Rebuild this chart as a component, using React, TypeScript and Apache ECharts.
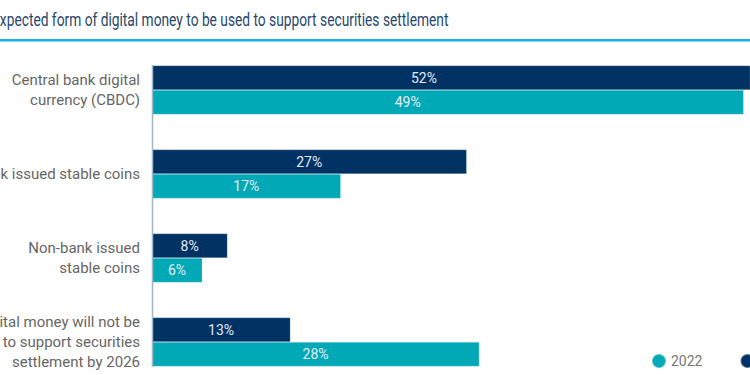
import React, { useEffect, useRef } from "react";
import * as echarts from "echarts";

const categories = [
  "Central bank digital\ncurrency (CBDC)",
  "Bank issued stable coins",
  "Non-bank issued\nstable coins",
  "Digital money will not be\nused to support securities\nsettlement by 2026",
];
const values2023 = [52, 27, 8, 13];
const values2022 = [49, 17, 6, 28];
const seriesNames = ["2022", "2023"];
const titleText = "Expected form of digital money to be used to support securities settlement";

const NAVY = "#003263";
const TEAL = "#00a9b5";

export default function App() {
  const ref = useRef<HTMLDivElement>(null);
  useEffect(() => {
    document.body.style.margin = "0";
    const chart = echarts.init(ref.current!, undefined, { renderer: "svg" });
    const labelBase = {
      show: true,
      position: "inside",
      color: "#e3ebf3",
      fontSize: 14,
      fontFamily: "Roboto",
      formatter: (p: any) => p.value + "%",
    };
    const withOffset = (vals: number[], dx: number) =>
      vals.map((v, i) => (i === 0 ? { value: v, label: { offset: [dx, 0] } } : v));
    chart.setOption({
      animation: false,
      backgroundColor: "#ffffff",
      grid: { left: 152, right: 0, top: 48, height: 336, outerBoundsMode: "none", containLabel: false },
      xAxis: { type: "value", min: 2, max: 49.5, show: false },
      yAxis: {
        type: "category",
        inverse: true,
        data: categories,
        axisLine: { show: false },
        axisTick: { show: false },
        axisLabel: {
          color: "#666666",
          fontSize: 15,
          lineHeight: 20,
          margin: 12,
          fontFamily: "Roboto",
          align: "right",
        },
      },
      legend: {
        data: seriesNames,
        left: 646,
        top: 348,
        width: 220,
        icon: "circle",
        itemWidth: 14,
        itemHeight: 14,
        itemGap: 37,
        textStyle: { color: "#777777", fontSize: 14, fontFamily: "Roboto" },
      },
      series: [
        {
          name: "2023",
          type: "bar",
          data: withOffset(values2023, -27),
          barWidth: 24.5,
          barGap: "0%",
          clip: true,
          itemStyle: { color: NAVY, borderColor: "rgba(255,255,255,0.35)", borderWidth: 0.6 },
          label: labelBase,
        },
        {
          name: "2022",
          type: "bar",
          data: withOffset(values2022, -40),
          barWidth: 24.5,
          barGap: "0%",
          clip: true,
          itemStyle: { color: TEAL, borderColor: "rgba(255,255,255,0.35)", borderWidth: 0.6 },
          label: labelBase,
        },
      ],
      graphic: [
        {
          type: "text",
          x: -8,
          y: 20,
          scaleX: 0.765,
          style: {
            text: titleText,
            fill: "#27466b",
            fontSize: 18,
            fontFamily: "Roboto",
            verticalAlign: "middle",
          },
        },
        { type: "rect", shape: { x: 0, y: 39, width: 750, height: 2.5 }, style: { fill: "#1ab2e8" } },
        {
          type: "line",
          shape: { x1: 152.5, y1: 65, x2: 152.5, y2: 367 },
          style: { stroke: "#a3b4c8", lineWidth: 1.5 },
          z: 10,
        },
      ],
    });
    return () => chart.dispose();
  }, []);
  return <div ref={ref} style={{ width: 750, height: 375 }} />;
}
